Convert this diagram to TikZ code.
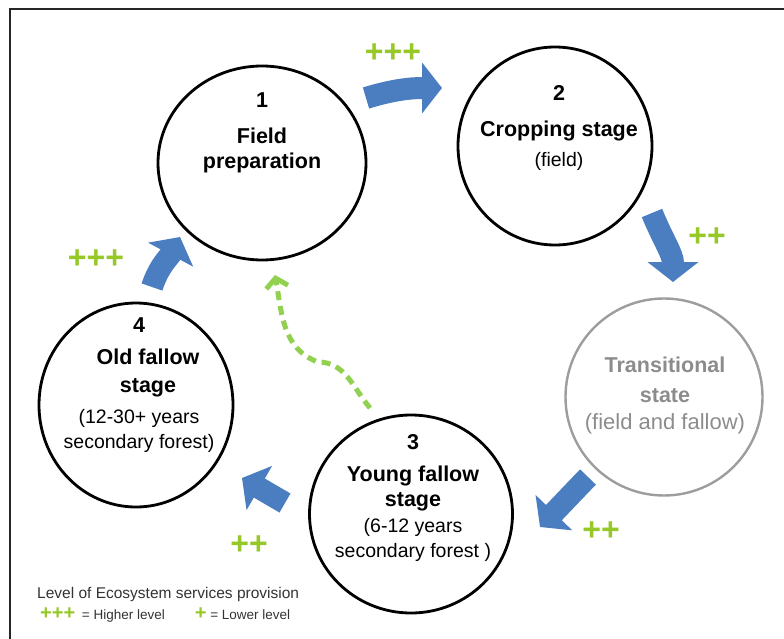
\documentclass[tikz,border=0pt]{standalone}
\usepackage{fontspec}
\setmainfont{Liberation Sans}
\usetikzlibrary{positioning,shapes.geometric,arrows.meta,calc}
\definecolor{flowblue}{RGB}{74,126,193}
\definecolor{plusgreen}{RGB}{150,200,40}
\definecolor{dashgreen}{RGB}{146,208,80}
\definecolor{fadegray}{RGB}{140,140,140}
\newcommand\lite{\mdseries\fontsize{19.5}{25}\selectfont}

\begin{document}
\begin{tikzpicture}[
    x=1pt, y=1pt,
    stage/.style={ellipse, draw=black, line width=2.8pt, inner sep=0pt},
    stagetext/.style={align=center, anchor=north, inner sep=0pt, font=\fontsize{21.5}{25}\selectfont\bfseries},
    flow/.style={draw=flowblue, line width=22pt, -{Triangle[width=50pt,length=20pt]}},
    back/.style={draw=dashgreen, line width=5pt, dash pattern=on 9pt off 6pt, -{Straight Barb[length=9pt,width=22pt]}},
    plus/.style={text=plusgreen, font=\fontsize{32}{32}\selectfont\bfseries, inner sep=0pt}
]
    \useasboundingbox (0,0) rectangle (784,-639);
    \draw[line width=2.5pt, black!85] (10,-639) -- (10,-9) -- (784,-9);

    % stages
    \node[stage, minimum width=208pt, minimum height=194pt] (c1) at (262,-163) {};
    \node[stage, minimum width=194pt, minimum height=198pt] (c2) at (555,-146) {};
    \node[stage, draw=fadegray!85, line width=2.4pt, minimum width=197pt, minimum height=197pt] (tr) at (664,-397) {};
    \node[stage, minimum width=203pt, minimum height=198pt] (c3) at (411,-514) {};
    \node[stage, minimum width=194pt, minimum height=204pt] (c4) at (136,-405) {};

    \node[stagetext] (t1) at (262,-93) {1\\[11pt]Field\\preparation};
    \node[stagetext] (t2) at (559,-85) {2\\[11pt]Cropping stage\\[5pt]{\lite (field)}};
    \node[stagetext, text=fadegray] (ttr) at (665,-357) {Transitional\\[5pt]state\\[2pt]{\mdseries\fontsize{22}{25}\selectfont (field and fallow)}};
    \node[stagetext] (t3) at (413,-434) {3\\[7pt]Young fallow\\stage\\[1pt]{\lite (6-12 years}\\{\lite secondary forest )}};
    \node[stagetext] (t4) at (139,-318) {4\\[7pt]\hspace*{18pt}Old fallow\\[3pt]\hspace*{18pt}stage\\[6pt]{\lite (12-30+ years}\\{\lite secondary forest)}};

    % arrow ends
    \path (c1) ++(104,65) coordinate (a12s);
    \path (c2) ++(-113,58) coordinate (a12e);
    \path (c2) ++(97,-67) coordinate (a2ts);
    \path (tr) ++(9,115) coordinate (a2te);
    \path (tr) ++(-76,-80) coordinate (at3s);
    \path (c3) ++(129,-13) coordinate (at3e);
    \path (c3) ++(-126,11) coordinate (a34s);
    \path (c4) ++(106,-73) coordinate (a34e);
    \path (c4) ++(16,118) coordinate (a41s);
    \path (c1) ++(-82,-74) coordinate (a41e);
    \path (c3) ++(-41,106) coordinate (backs);
    \path (c3) ++(-93,152) coordinate (backm);
    \path (c1) ++(13,-112) coordinate (backe);

    \draw[flow] (a12s) to[out=17, in=180] (a12e);
    \draw[flow] (a2ts) to[out=-68, in=90] (a2te);
    \draw[flow] (at3s) to[out=226, in=46] (at3e);
    \draw[flow] (a34s) to[out=150, in=-30] (a34e);
    \draw[flow] (a41s) to[out=72, in=242] (a41e);
    \draw[back] (backs) to[out=130, in=0] (backm) to[out=160, in=-80] (backe);

    % service levels
    \node[plus] (p12) at (393,-53) {+++};
    \node[plus] (p2t) at (707,-237) {++};
    \node[plus] (pt3) at (601,-531) {++};
    \node[plus] (p34) at (249,-545) {++};
    \node[plus] (p41) at (96,-259) {+++};

    % legend
    \node[anchor=base west, inner sep=0pt, text=black!80, font=\fontsize{15.5}{18}\selectfont] (legend) at (37,-598) {Level of Ecosystem services provision};
    \node[anchor=base west, inner sep=0pt, text=black!80, font=\fontsize{13.5}{15}\selectfont] (key) at (40,-619)
        {{\color{plusgreen}\fontsize{20}{20}\selectfont\bfseries +++}\hspace{3pt} = Higher level\hspace{30pt}{\color{plusgreen}\fontsize{20}{20}\selectfont\bfseries +} = Lower level};
\end{tikzpicture}
\end{document}
